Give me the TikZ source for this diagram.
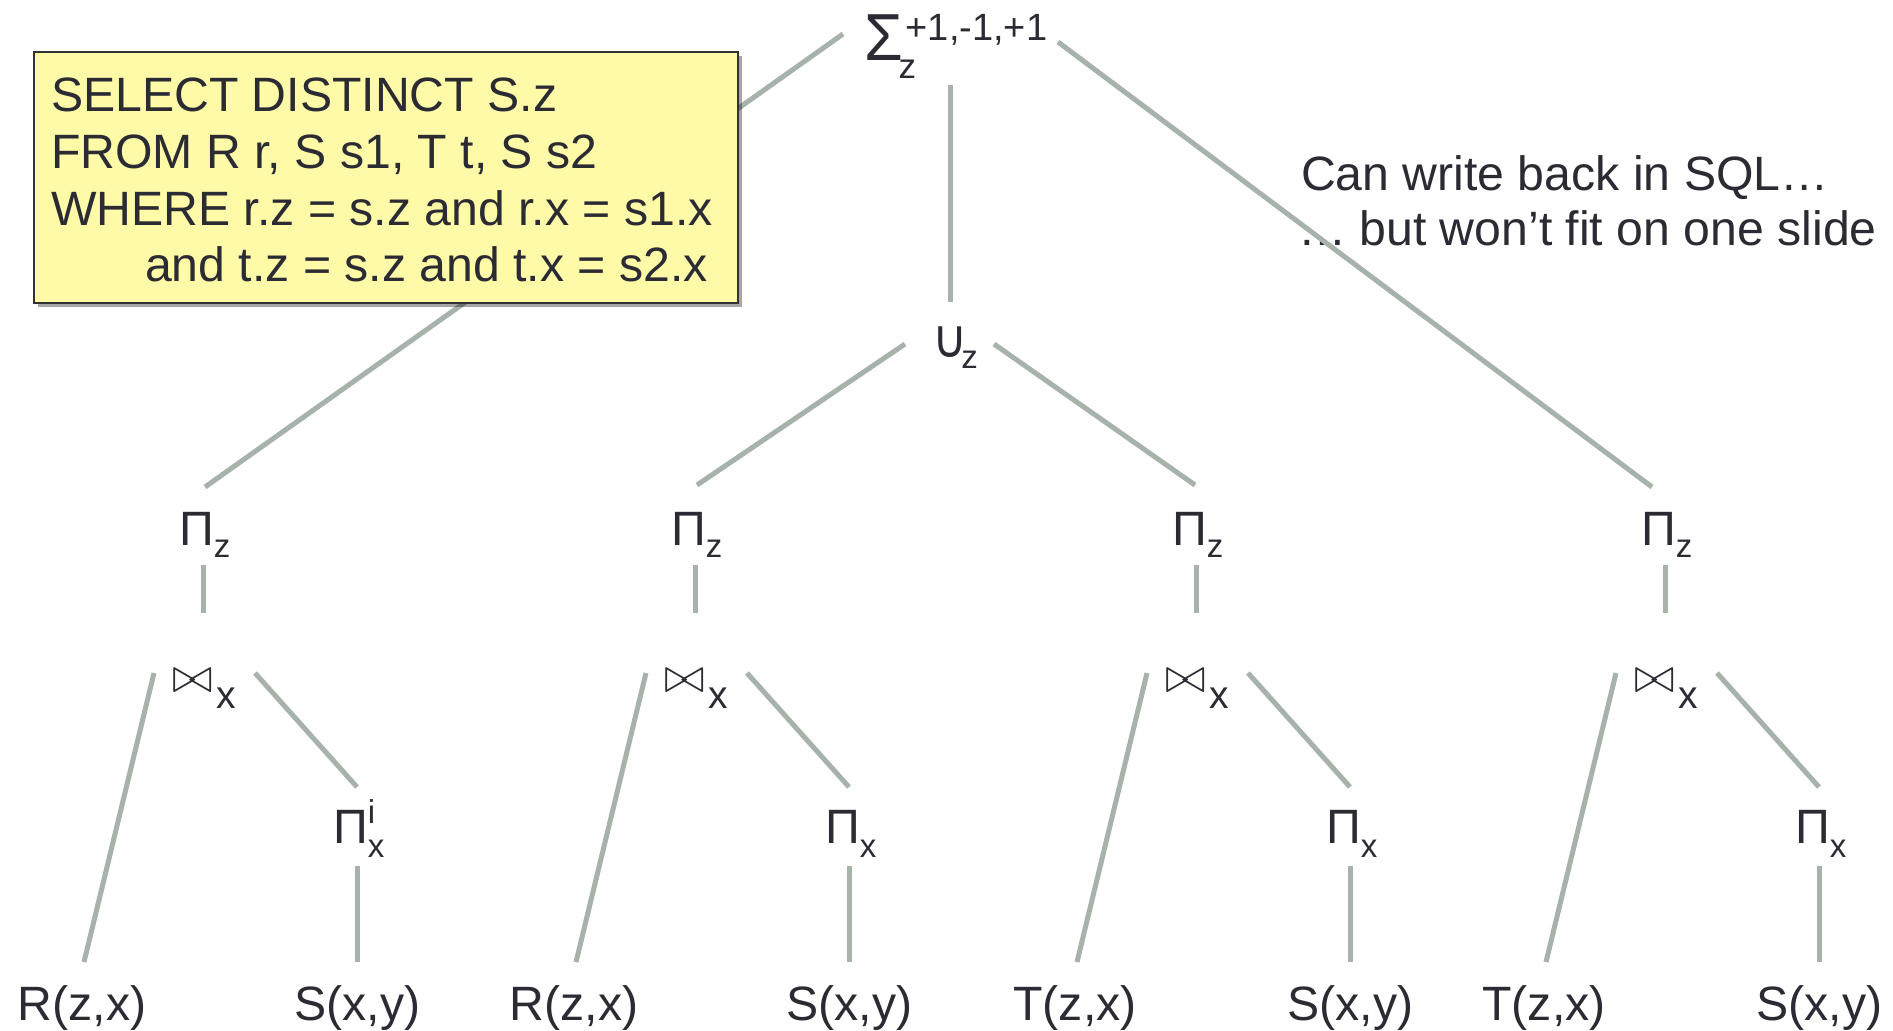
\documentclass[tikz,border=0pt]{standalone}
\usepackage{fontspec}
\setmainfont{Liberation Sans}
\newfontfamily\djv{DejaVu Sans}
\usetikzlibrary{calc,shadows}
\definecolor{ink}{HTML}{2B2B33}
\definecolor{edgec}{HTML}{A7B2AA}
\definecolor{notefill}{HTML}{FFFAA8}
\definecolor{noteline}{HTML}{333333}
\newcommand\mainsz{\fontsize{24.1}{28.9}\selectfont}
\newcommand\subsz{\fontsize{16.5}{19}\selectfont}
\newcommand\joinsub{\fontsize{19.5}{22}\selectfont}
\newcommand\bowsym{{\fontsize{24.88}{28}\selectfont$\bowtie$}}
\begin{document}
\begin{tikzpicture}[x=0.5pt,y=-0.5pt,
  lbl/.style={inner sep=0pt, outer sep=0pt, text=ink, font=\mainsz},
  edge/.style={draw=edgec, line width=2.5pt},
  note/.style={draw=noteline, line width=0.8pt, fill=notefill, inner sep=0pt,
    minimum width=352pt, minimum height=125.5pt,
    drop shadow={shadow xshift=2pt, shadow yshift=-2pt, opacity=0.35, fill=black}}
  ]
\useasboundingbox[fill=white] (0,0) rectangle (1893,1030);

% annotation text (lines pass over it)
\node[lbl, anchor=base west] (an1) at (1301,190) {Can write back in SQL…};
\node[lbl, anchor=base west] (an2) at (1298,245) {… but won’t fit on one slide};

% top operators
\node[lbl, anchor=base west] (sig) at (864,60)
  {\scalebox{1.3}[1.38]{Σ}\hspace{-2pt}\rlap{\raisebox{-9pt}{\fontsize{17.5}{20}\selectfont z}}\hspace{3.5pt}\raisebox{10pt}{\fontsize{19}{22}\selectfont +1,-1,+1}};
\node[lbl, anchor=base west] (un) at (932,357)
  {\scalebox{1.0}[1.1]{\djv ∪}\hspace{-3pt}\raisebox{-5.5pt}{\subsz z}};

% four branches
\foreach \g/\lt/\sup [count=\i] in {203/R/i, 695/R/, 1196/T/, 1665/T/}{
  \node[lbl, anchor=base west] (pz\i) at (\g-24,545) {Π\raisebox{-6pt}{\subsz z}};
  \node[lbl, anchor=base west] (j\i) at (\g-31,692) {\bowsym\hspace{2pt}\raisebox{-8pt}{\joinsub x}};
  \node[lbl, anchor=base west] (px\i) at (\g+130,843)
    {Π\rlap{\raisebox{10pt}{\subsz \sup}}\raisebox{-7pt}{\subsz x}};
  \node[lbl, anchor=base] (la\i) at (\g-121,1020) {\lt(z,x)};
  \node[lbl, anchor=base] (lb\i) at (\g+154.5,1020) {S(x,y)};
  \draw[edge] ($(pz\i.base west)+(24,20)$) -- ($(j\i.base west)+(31,-79)$);
  \draw[edge] ($(j\i.base west)+(-18,-19)$) -- ($(la\i.base)+(2,-58)$);
  \draw[edge] ($(j\i.base west)+(83,-19)$) -- ($(px\i.base west)+(24,-56)$);
  \draw[edge] ($(px\i.base west)+(24,23)$) -- ($(lb\i.base)+(-0.5,-58)$);
}

% top connectors
\draw[edge] ($(sig.base west)+(-21,-26)$) -- ($(pz1.base west)+(26,-58)$);
\draw[edge] ($(sig.base west)+(86,25)$) -- ($(un.base west)+(18,-55)$);
\draw[edge] ($(sig.base west)+(194,-18)$) -- ($(pz4.base west)+(11,-58)$);
\draw[edge] ($(un.base west)+(-27,-13)$) -- ($(pz2.base west)+(26,-60)$);
\draw[edge] ($(un.base west)+(62,-13)$) -- ($(pz3.base west)+(23,-60)$);

% SQL note on top
\node[note] (sqlbox) at (386,177.5) {};
\node[lbl, anchor=base west] (sq1) at (51,111) {SELECT DISTINCT S.z};
\node[lbl, anchor=base west] (sq2) at (51,168) {FROM R r, S s1, T t, S s2};
\node[lbl, anchor=base west] (sq3) at (51,225) {WHERE r.z = s.z and r.x = s1.x};
\node[lbl, anchor=base west] (sq4) at (145,281) {and t.z = s.z and t.x = s2.x};
\end{tikzpicture}
\end{document}
